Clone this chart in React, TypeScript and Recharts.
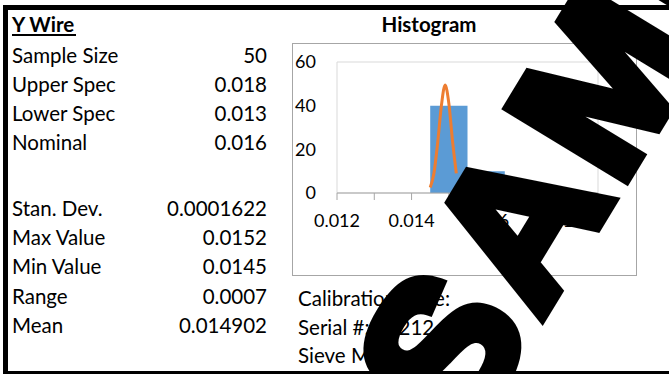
import { ComposedChart, Area, Line, XAxis, YAxis, ReferenceArea } from "recharts";

// sheet cells
const specLabels = ["Sample Size", "Upper Spec", "Lower Spec", "Nominal"];
const specValues = ["50", "0.018", "0.013", "0.016"];
const statLabels = ["Stan. Dev.", "Max Value", "Min Value", "Range", "Mean"];
const statValues = ["0.0001622", "0.0152", "0.0145", "0.0007", "0.014902"];
const infoLabels = ["Calibration Date:", "Serial #: 10212", "Sieve Mesh:"];

// histogram bins (centre, count), bin width 0.001
const binCenters = [0.015, 0.016];
const binCounts = [40, 10];
const binWidth = 0.001;

// fitted normal curve
const curveX = [0.0145, 0.0146, 0.0147, 0.0148, 0.0149, 0.015, 0.0151, 0.0152];
const curveY = [2.5, 9, 23, 40, 49.5, 41, 23.5, 9];

const xTicks = [0.012, 0.013, 0.014, 0.015, 0.016, 0.017, 0.018, 0.019];
const yTicks = [0, 20, 40, 60];

// step table: each bin's left edge carries its count, last right edge drops to 0
const key = (x: number) => Math.round(x * 1e6);
const rows = new Map<number, { x: number; count?: number; curve?: number }>();
const row = (x: number) => {
  const k = key(x);
  if (!rows.has(k)) rows.set(k, { x: k / 1e6 });
  return rows.get(k)!;
};
binCenters.forEach((c, i) => {
  row(c - binWidth / 2).count = binCounts[i];
});
row(binCenters[binCenters.length - 1] + binWidth / 2).count = 0;
curveX.forEach((x, i) => {
  row(x).curve = curveY[i];
});
const data = [...rows.values()].sort((a, b) => a.x - b.x);

const font = "Lato, 'Open Sans', sans-serif";
const tick = { fontSize: 18, fill: "#000", fontFamily: font };

function Histogram() {
  return (
    <ComposedChart width={345} height={233} data={data} margin={{ top: 19, right: 39, left: 0, bottom: 0 }}>
      <ReferenceArea x1={0.012} x2={0.019} y1={0} y2={60} fill="none" stroke="#d9d9d9" strokeWidth={1} ifOverflow="visible" />
      <XAxis
        type="number"
        dataKey="x"
        domain={[0.012, 0.019]}
        ticks={xTicks}
        interval={0}
        tickFormatter={(v: number) => (Math.round(v * 1000) % 2 === 0 ? v.toFixed(3) : "")}
        tick={tick}
        axisLine={{ stroke: "#a6a6a6" }}
        tickLine={{ stroke: "#a6a6a6" }}
        tickSize={7}
        tickMargin={14}
        height={83}
      />
      <YAxis
        type="number"
        domain={[0, 60]}
        ticks={yTicks}
        interval={0}
        tick={tick}
        axisLine={false}
        tickLine={false}
        tickSize={0}
        tickMargin={21}
        width={45}
      />
      <Area
        dataKey="count"
        type="stepAfter"
        fill="#5b9bd5"
        fillOpacity={1}
        stroke="none"
        connectNulls
        dot={false}
        activeDot={false}
        isAnimationActive={false}
      />
      <Line
        dataKey="curve"
        type="monotone"
        stroke="#ed7d31"
        strokeWidth={3}
        dot={false}
        activeDot={false}
        connectNulls
        isAnimationActive={false}
      />
    </ComposedChart>
  );
}

export default function App() {
  const specBase = [63, 92, 121, 150];
  const statBase = [216, 245, 274, 304, 333];
  const infoBase = [306, 335, 363];
  return (
    <div style={{ position: "absolute", left: 0, top: 0, width: 669, height: 374, background: "#fff", overflow: "hidden" }}>
      <svg width={669} height={374} style={{ position: "absolute", left: 0, top: 0 }}>
        <g fontFamily={font} fontSize={20.5} fill="#000">
          <text x={12} y={32} fontWeight={700}>Y Wire</text>
          <rect x={12} y={34} width={64} height={2} fill="#000" />
          <text x={429} y={32} fontWeight={700} textAnchor="middle">Histogram</text>
          {specLabels.map((l, i) => (
            <text key={l} x={12} y={specBase[i]}>{l}</text>
          ))}
          {specValues.map((v, i) => (
            <text key={i} x={267} y={specBase[i]} textAnchor="end">{v}</text>
          ))}
          {statLabels.map((l, i) => (
            <text key={l} x={12} y={statBase[i]}>{l}</text>
          ))}
          {statValues.map((v, i) => (
            <text key={i} x={267} y={statBase[i]} textAnchor="end">{v}</text>
          ))}
          {infoLabels.map((l, i) => (
            <text key={l} x={298} y={infoBase[i]}>{l}</text>
          ))}
        </g>
        <rect x={292.5} y={43.5} width={344} height={232} fill="none" stroke="#a6a6a6" />
      </svg>
      <div style={{ position: "absolute", left: 292, top: 43 }}>
        <Histogram />
      </div>
      <svg width={669} height={374} style={{ position: "absolute", left: 0, top: 0 }}>
        <rect x={3} y={5} width={666} height={5} fill="#000" />
        <rect x={3} y={5} width={5} height={369} fill="#000" />
        <rect x={3} y={371} width={666} height={3} fill="#000" />
        <g transform="translate(543,322) rotate(-58.7)">
          <text
            x={-142}
            y={-4}
            fontSize={198}
            fontWeight={900}
            fontFamily="'Liberation Sans', Arial, sans-serif"
            letterSpacing={10}
            fill="#000"
            stroke="#000"
            strokeWidth={12}
            strokeLinejoin="miter"
          >
            SAMPLE
          </text>
        </g>
      </svg>
    </div>
  );
}
